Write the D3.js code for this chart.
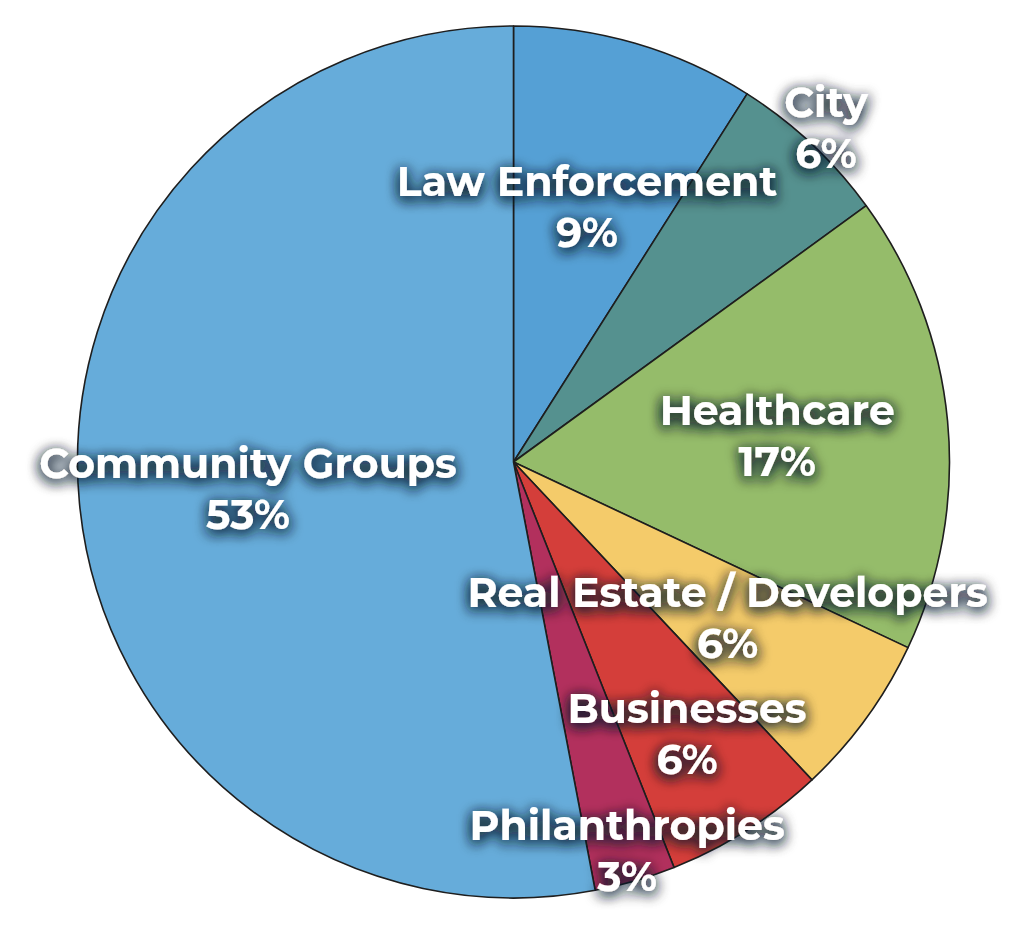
<!DOCTYPE html>
<html>
<head>
<meta charset="utf-8">
<script src="https://cdn.jsdelivr.net/npm/d3@7"></script>
<style>
  html, body { margin: 0; padding: 0; background: #ffffff; }
  svg { display: block; }
</style>
</head>
<body>
<svg id="chart" width="1024" height="938"></svg>
<script>
// ---- data ----
const categories = ["Law Enforcement", "City", "Healthcare", "Real Estate / Developers", "Businesses", "Philanthropies", "Community Groups"];
const values = [9, 6, 17, 6, 6, 3, 53];
const colors = ["#55A0D5", "#55918F", "#95BC6A", "#F4CB6A", "#D43E3A", "#B2305D", "#66ACDA"];
// label placement: radius from centre and angular nudge (degrees) relative to slice middle
const labelRadius = [251.5, 446.6, 264, 274, 335, 419.6, 268.6];
const labelAngleShift = [0.8, 1.2, 3.0, 2.6, 1.2, 0.5, -3.4];

const W = 1024, H = 938;
const cx = 513.5, cy = 462, R = 436;
const svg = d3.select("#chart");

const defs = svg.append("defs");
const f = defs.append("filter").attr("id", "glow").attr("x", "-20%").attr("y", "-60%").attr("width", "140%").attr("height", "220%");
f.append("feGaussianBlur").attr("in", "SourceAlpha").attr("stdDeviation", 7).attr("result", "b");
f.append("feOffset").attr("in", "b").attr("dx", 0).attr("dy", 3).attr("result", "o");
f.append("feFlood").attr("flood-color", "#10202e").attr("flood-opacity", 0.9);
f.append("feComposite").attr("in2", "o").attr("operator", "in").attr("result", "s");
const m = f.append("feMerge");
m.append("feMergeNode").attr("in", "s");
m.append("feMergeNode").attr("in", "s");
m.append("feMergeNode").attr("in", "SourceGraphic");

const pie = d3.pie().sort(null).value(d => d)(values);
const arc = d3.arc().innerRadius(0).outerRadius(R);

const g = svg.append("g").attr("transform", `translate(${cx},${cy})`);
g.selectAll("path.slice").data(pie).join("path")
  .attr("class", "slice")
  .attr("d", arc)
  .attr("fill", (d, i) => colors[i])
  .attr("stroke", "#1e1e1e")
  .attr("stroke-width", 1.6)
  .attr("stroke-linejoin", "round");

const fontSize = 41;
const lineGap = 51;
const lbl = g.selectAll("g.lbl").data(pie).join("g").attr("class", "lbl")
  .attr("transform", (d, i) => {
    const a = (d.startAngle + d.endAngle) / 2 + labelAngleShift[i] * Math.PI / 180;
    const r = labelRadius[i];
    return `translate(${r * Math.sin(a)},${-r * Math.cos(a)})`;
  })
  .attr("filter", "url(#glow)");

lbl.append("text")
  .attr("text-anchor", "middle")
  .attr("y", -lineGap / 2)
  .attr("font-family", "Montserrat, 'DejaVu Sans', sans-serif")
  .attr("font-weight", "bold")
  .attr("font-size", fontSize)
  .attr("fill", "#ffffff")
  .text((d, i) => categories[i]);

lbl.append("text")
  .attr("text-anchor", "middle")
  .attr("y", lineGap / 2)
  .attr("font-family", "Montserrat, 'DejaVu Sans', sans-serif")
  .attr("font-weight", "bold")
  .attr("font-size", fontSize)
  .attr("fill", "#ffffff")
  .text((d, i) => values[i] + "%");
</script>
</body>
</html>
